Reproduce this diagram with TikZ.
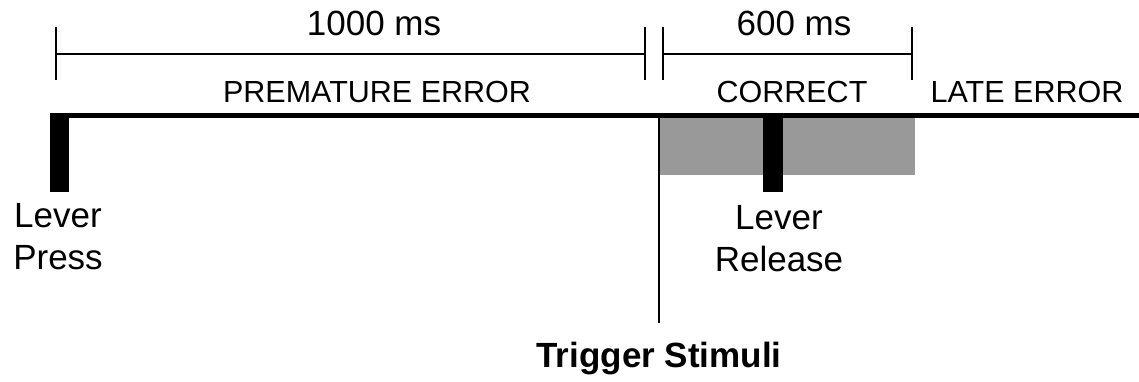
\documentclass[tikz,border=0pt]{standalone}
\usepackage{fontspec}
\setmainfont{Liberation Sans}
\usetikzlibrary{positioning}

\begin{document}
\begin{tikzpicture}[x=1pt,y=-1pt,
    tick/.style={line width=1.2pt},
    zone/.style={font=\fontsize{30.5}{36}\selectfont, anchor=base, inner sep=0pt},
    event/.style={font=\fontsize{35}{42}\selectfont, inner sep=0pt, align=center}]
    \useasboundingbox (0,0) rectangle (1139,381);

    % interval brackets
    \draw[tick] (56,27) -- (56,80) (56,54) -- (645,54) (645,27) -- (645,80);
    \draw[tick] (663,27) -- (663,80) (663,54) -- (912,54) (912,27) -- (912,80);
    \node[event, anchor=base] (longint) at (374,35) {1000 ms};
    \node[event, anchor=base] (shortint) at (794,35) {600 ms};

    % response windows
    \node[zone] (premature) at (377,102) {PREMATURE ERROR};
    \node[zone] (correct) at (792,102) {CORRECT};
    \node[zone] (late) at (1027,102) {LATE ERROR};

    \fill[black!40] (659,115) rectangle (915,175);
    \draw[line width=5pt] (50,115) -- (1139,115);

    % lever press / release
    \fill[black] (50,113) rectangle (69,192);
    \fill[black] (763,113) rectangle (783,192);
    \node[event, anchor=north] (press) at (58,203) {Lever\\Press};
    \node[event, anchor=north] (release) at (779,205) {Lever\\Release};

    % trigger
    \draw[line width=2pt] (659,115) -- (659,323);
    \node[event, anchor=base, font=\fontsize{35}{42}\selectfont\bfseries] (trigger) at (659,367) {Trigger Stimuli};
\end{tikzpicture}
\end{document}
